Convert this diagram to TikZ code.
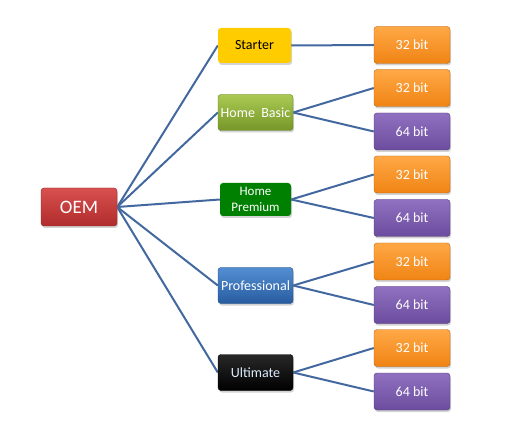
\documentclass[tikz,border=0pt]{standalone}
\usepackage{fontspec}
\setmainfont{Carlito}
\usetikzlibrary{backgrounds,shadows}

\definecolor{linkblue}{HTML}{4368A0}
\definecolor{oemtop}{HTML}{D85050}
\definecolor{oembot}{HTML}{B02C2C}
\definecolor{orangetop}{HTML}{FFA846}
\definecolor{orangebot}{HTML}{F08414}
\definecolor{purpletop}{HTML}{9070C0}
\definecolor{purplebot}{HTML}{6C4C9E}

\begin{document}
\begin{tikzpicture}[x=1pt,y=-1pt,
  box/.style={rounded corners=3pt,minimum width=75pt,minimum height=36pt,
    inner sep=1pt,align=center,font=\fontsize{14}{15}\selectfont,text=white,
    drop shadow={opacity=0.35,shadow xshift=1pt,shadow yshift=-2pt}},
  oembox/.style={box,minimum width=76pt,minimum height=38pt,
    font=\fontsize{19}{21}\selectfont,top color=oemtop,bottom color=oembot,draw=oembot!80!black},
  bitbox/.style={box,minimum width=76pt,minimum height=37pt},
  orangebox/.style={bitbox,top color=orangetop,bottom color=orangebot,draw=orangebot!75!black},
  purplebox/.style={bitbox,top color=purpletop,bottom color=purplebot,draw=purplebot!75!black},
  link/.style={draw=linkblue,line width=2pt}]
  \useasboundingbox (0,0) rectangle (508,435);

  \node[oembox] (oem) at (79,207) {OEM};

  \node[box,fill={rgb,255:red,255;green,204;blue,0},text=black,minimum width=73pt,minimum height=35pt,drop shadow={opacity=0}] (starter) at (254.5,45.5) {Starter};
  \node[box,top color={rgb,255:red,170;green,202;blue,84},bottom color={rgb,255:red,118;green,150;blue,40},draw={rgb,255:red,100;green,128;blue,34}] (basic) at (255.5,112.5) {Home\ \ Basic};
  \node[box,fill={rgb,255:red,0;green,128;blue,0},minimum width=71pt,minimum height=33pt,drop shadow={opacity=0},font=\fontsize{13}{16}\selectfont] (premium) at (255.5,199.5) {Home\\Premium};
  \node[box,top color={rgb,255:red,84;green,142;blue,210},bottom color={rgb,255:red,40;green,92;blue,160},draw={rgb,255:red,36;green,76;blue,130}] (pro) at (255.5,285.5) {Professional};
  \node[box,top color={rgb,255:red,40;green,40;blue,40},bottom color=black,draw=black,text={rgb,255:red,220;green,235;blue,255}] (ultimate) at (255.5,372.5) {Ultimate};

  \node[orangebox] (s32) at (412,45) {32 bit};
  \node[orangebox] (b32) at (412,88) {32 bit};
  \node[purplebox] (b64) at (412,131.5) {64 bit};
  \node[orangebox] (p32) at (412,174.5) {32 bit};
  \node[purplebox] (p64) at (412,218) {64 bit};
  \node[orangebox] (r32) at (412,261.5) {32 bit};
  \node[purplebox] (r64) at (412,305) {64 bit};
  \node[orangebox] (u32) at (412,348) {32 bit};
  \node[purplebox] (u64) at (412,391.5) {64 bit};

  \begin{scope}[on background layer]
    \foreach \t in {starter,basic,premium,pro,ultimate}
      \path[link] (oem.east) -- (\t.west);
    \path[link] (starter.east) -- (s32.west);
    \foreach \f/\a/\b in {basic/b32/b64,premium/p32/p64,pro/r32/r64,ultimate/u32/u64} {
      \path[link] (\f.east) -- (\a.west);
      \path[link] (\f.east) -- (\b.west);
    }
  \end{scope}
\end{tikzpicture}
\end{document}
